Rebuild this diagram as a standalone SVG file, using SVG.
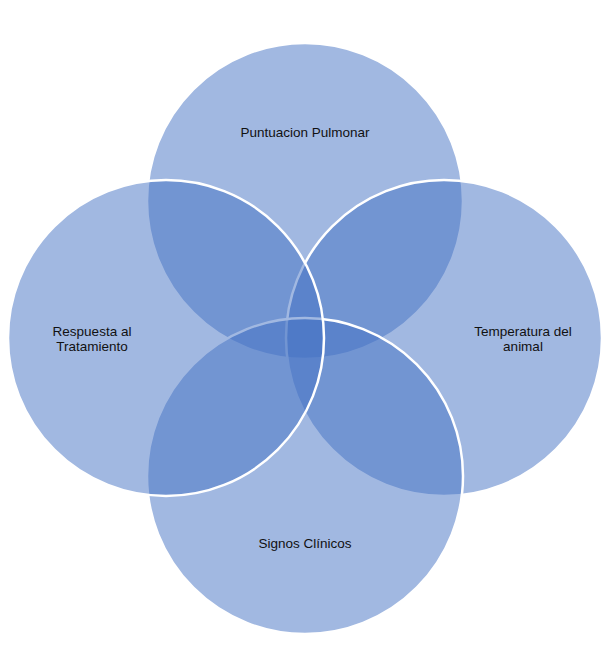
<svg xmlns="http://www.w3.org/2000/svg" width="610" height="650" viewBox="0 0 610 650">
<style>
.c{fill:#4472C4;fill-opacity:0.5;stroke:#ffffff;stroke-width:2.5}
.t{font-family:"Liberation Sans",Arial,sans-serif;font-size:13.5px;fill:#111111;text-anchor:middle}
</style>
<rect width="610" height="650" fill="#ffffff"/>
<g id="top"><circle class="c" cx="305" cy="201" r="158"/></g>
<g id="right"><circle class="c" cx="444" cy="338" r="158"/></g>
<g id="bottom"><circle class="c" cx="305" cy="476" r="158"/></g>
<g id="left"><circle class="c" cx="166" cy="338" r="158"/></g>
<g id="labels">
<text class="t" x="305" y="137">Puntuacion Pulmonar</text>
<text class="t" x="92" y="336">Respuesta al</text>
<text class="t" x="92" y="351">Tratamiento</text>
<text class="t" x="523" y="336">Temperatura del</text>
<text class="t" x="523" y="351">animal</text>
<text class="t" x="305" y="548">Signos Clínicos</text>
</g>
<g id="connectors"></g>
</svg>
